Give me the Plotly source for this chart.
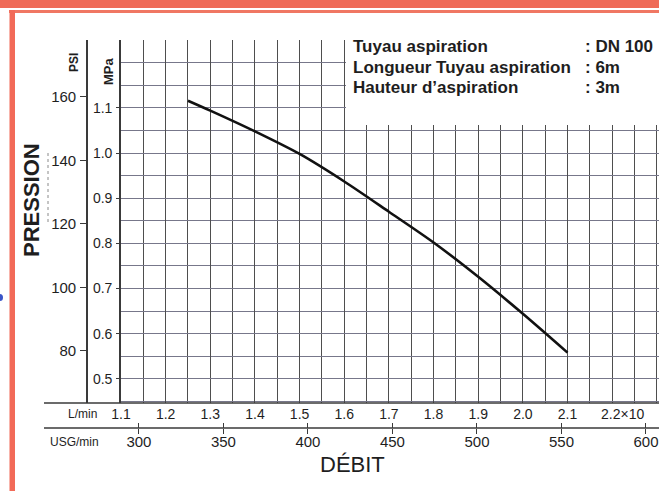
import plotly.graph_objects as go

# ---------------- data ----------------
FLOW_LMIN = [1.25, 1.30, 1.40, 1.50, 1.60, 1.70, 1.80, 1.90, 2.00, 2.10]          # x10^3 L/min
PRESSURE_MPA = [1.116, 1.094, 1.048, 0.998, 0.937, 0.870, 0.802, 0.726, 0.644, 0.558]

LMIN_TICKS = [1.1, 1.2, 1.3, 1.4, 1.5, 1.6, 1.7, 1.8, 1.9, 2.0, 2.1]
LMIN_LABELS = ["1.1", "1.2", "1.3", "1.4", "1.5", "1.6", "1.7", "1.8", "1.9", "2.0", "2.1"]
LMIN_LAST_TICK = 2.2
LMIN_LAST_LABEL = "2.2×10"
USG_TICKS = [300, 350, 400, 450, 500, 550, 600]
MPA_TICKS = [0.5, 0.6, 0.7, 0.8, 0.9, 1.0, 1.1]
PSI_TICKS = [80, 100, 120, 140, 160]

INFO_LABELS = ["Tuyau aspiration", "Longueur Tuyau aspiration", "Hauteur d\u2019aspiration"]
INFO_VALUES = [": DN 100", ": 6m", ": 3m"]

X_RANGE = [1.1, 2.3049]
Y_RANGE = [0.4464, 1.2505]
PSI_RANGE = [63.6, 177.95]
USG_RANGE = [289.4, 607.7]

# ---------------- helpers (pixel -> paper) ----------------
W, H = 659, 491
def px(x):
    return x / W
def py(y):
    return 1 - y / H

FONT = "Liberation Sans, Arial, sans-serif"
INK = "#1e1e1e"
XGRID = "#4e4e4e"
YGRID = "#77778a"
AXIS = "#3a3a3a"
RED = "#ef6b58"

fig = go.Figure()

fig.add_trace(go.Scatter(
    x=FLOW_LMIN, y=PRESSURE_MPA, mode="lines",
    line=dict(color="#111111", width=2.6, shape="spline", smoothing=0.8),
    xaxis="x", yaxis="y", showlegend=False, hoverinfo="skip"))
# empty traces so the secondary axes get drawn
fig.add_trace(go.Scatter(x=[], y=[], xaxis="x", yaxis="y2", showlegend=False))
fig.add_trace(go.Scatter(x=[], y=[], xaxis="x2", yaxis="y", showlegend=False))
fig.add_trace(go.Scatter(x=[], y=[], xaxis="x3", yaxis="y", showlegend=False))

xdom = [px(121), 1.0]
ydom = [py(403), py(40)]

fig.update_layout(
    width=W, height=H, autosize=False,
    margin=dict(l=0, r=0, t=0, b=0, pad=0),
    paper_bgcolor="white", plot_bgcolor="white",
    showlegend=False,
    xaxis=dict(
        domain=xdom, range=X_RANGE, anchor="y",
        tickmode="array", tickvals=LMIN_TICKS, ticktext=LMIN_LABELS,
        ticks="", showline=False, zeroline=False,
        showgrid=True, gridcolor=XGRID, gridwidth=1.2,
        minor=dict(dtick=0.05, tick0=1.1, showgrid=True, gridcolor=XGRID, gridwidth=1.2),
        tickfont=dict(family=FONT, size=14, color=INK), ticklabelstandoff=1,
        automargin=False, fixedrange=True),
    xaxis2=dict(
        domain=xdom, range=USG_RANGE, anchor="free", position=py(428),
        overlaying="x", side="bottom",
        tickmode="array", tickvals=USG_TICKS,
        ticks="outside", ticklen=5, tickwidth=1.2, tickcolor=AXIS,
        showline=False, showgrid=False, zeroline=False,
        tickfont=dict(family=FONT, size=15, color=INK), ticklabelstandoff=-5, automargin=False),
    xaxis3=dict(
        domain=xdom, range=USG_RANGE, anchor="free", position=py(428),
        overlaying="x", side="bottom",
        tickmode="array", tickvals=USG_TICKS, showticklabels=False,
        ticks="inside", ticklen=5, tickwidth=1.2, tickcolor=AXIS,
        showline=False, showgrid=False, zeroline=False, automargin=False),
    yaxis=dict(
        domain=ydom, range=Y_RANGE, anchor="x",
        tickmode="array", tickvals=MPA_TICKS, ticktext=[f"{v:.1f}" for v in MPA_TICKS],
        ticks="outside", ticklen=3, tickcolor=AXIS,
        showline=True, linecolor=AXIS, linewidth=1.6, zeroline=False,
        showgrid=True, gridcolor=YGRID, gridwidth=1.2,
        minor=dict(dtick=0.05, tick0=0.45, showgrid=True, gridcolor=YGRID, gridwidth=1.2),
        tickfont=dict(family=FONT, size=14, color=INK), ticklabelstandoff=1,
        automargin=False, fixedrange=True),
    yaxis2=dict(
        domain=ydom, range=PSI_RANGE, anchor="free", position=px(87),
        overlaying="y", side="left",
        tickmode="array", tickvals=PSI_TICKS,
        ticks="outside", ticklen=6, tickwidth=1.2, tickcolor=AXIS,
        showline=True, linecolor=AXIS, linewidth=1.6,
        showgrid=False, zeroline=False,
        tickfont=dict(family=FONT, size=15, color=INK), ticklabelstandoff=1, automargin=False),
)

shapes = []
# red frame
shapes.append(dict(type="rect", xref="paper", yref="paper", x0=0, x1=1, y0=py(8), y1=1,
                   fillcolor=RED, line=dict(width=0), layer="above"))
shapes.append(dict(type="rect", xref="paper", yref="paper", x0=px(9), x1=1, y0=py(13), y1=py(10),
                   fillcolor="#f07763", line=dict(width=0), layer="above"))
shapes.append(dict(type="rect", xref="paper", yref="paper", x0=px(9.5), x1=px(15), y0=0, y1=py(10),
                   fillcolor="#f26a58", line=dict(width=0), layer="above"))
# horizontal axis lines (L/min and USG/min)
for yy in (403, 428):
    shapes.append(dict(type="line", xref="paper", yref="paper", x0=px(44), x1=1, y0=py(yy), y1=py(yy),
                       line=dict(color=AXIS, width=1.6), layer="above"))
# white info box covering the grid
shapes.append(dict(type="rect", xref="paper", yref="paper", x0=px(346), x1=1, y0=py(125), y1=py(36),
                   fillcolor="white", line=dict(width=0), layer="above"))
# dotted mark beside PRESSION
shapes.append(dict(type="line", xref="paper", yref="paper", x0=px(48), x1=px(48), y0=py(222), y1=py(152),
                   line=dict(color="#8a8a8a", width=1, dash="dot"), layer="above"))
# small blue dot at left edge
shapes.append(dict(type="circle", xref="paper", yref="paper", x0=px(-3), x1=px(3), y0=py(301), y1=py(294),
                   fillcolor="#3a55c8", line=dict(width=0), layer="above"))
fig.update_layout(shapes=shapes)

ann = []
def text(x, y, s, size, bold=False, angle=0, xanchor="center", color=INK):
    ann.append(dict(xref="paper", yref="paper", x=px(x), y=py(y), text=f"<b>{s}</b>" if bold else s,
                    showarrow=False, textangle=angle, xanchor=xanchor, yanchor="middle",
                    font=dict(family=FONT, size=size, color=color)))

text(31, 200, "PRESSION", 22, bold=True, angle=-90)
text(74, 63, "PSI", 12, bold=True, angle=-90)
text(109, 71, "MPa", 13, bold=True, angle=-90)
text(82, 414, "L/min", 12)
text(74, 442, "USG/min", 12)
text(352, 464, "DÉBIT", 22)
for i, (lab, val) in enumerate(zip(INFO_LABELS, INFO_VALUES)):
    yy = 47 + 20.5 * i
    text(351, yy, lab, 17, bold=True, xanchor="left")
    text(583, yy, val, 17, bold=True, xanchor="left")

ann.append(dict(xref="x", yref="paper", x=LMIN_LAST_TICK, y=py(414), text=LMIN_LAST_LABEL,
                showarrow=False, xanchor="left", xshift=-13, yanchor="middle",
                font=dict(family=FONT, size=14, color=INK)))
fig.update_layout(annotations=ann)

fig.write_html("out.html",
               config={"displayModeBar": False},
               post_script="document.body.style.margin='0px';document.body.style.overflow='hidden';")
